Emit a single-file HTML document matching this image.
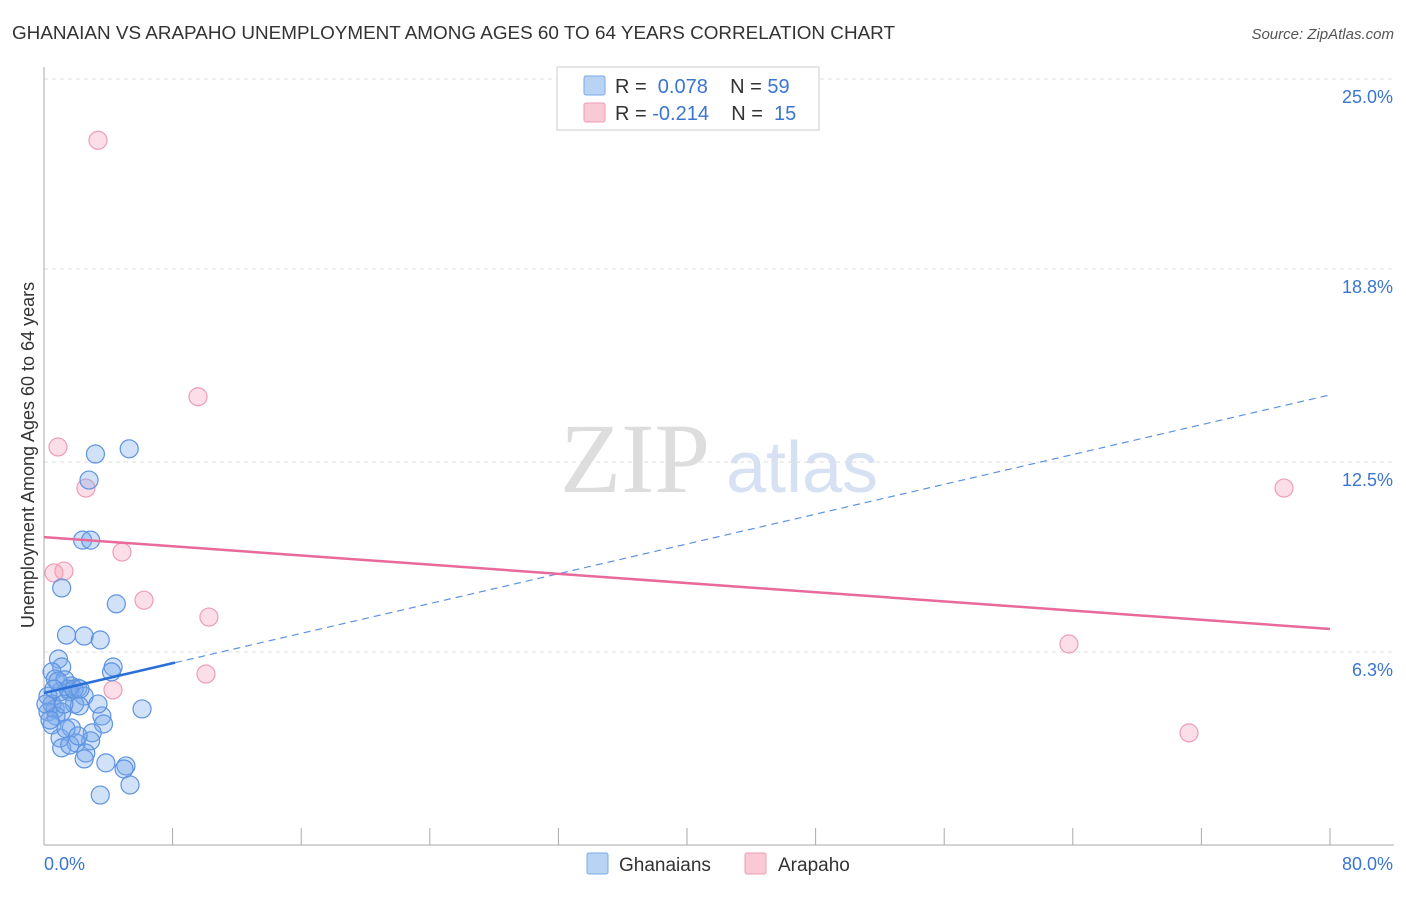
<!DOCTYPE html>
<html><head><meta charset="utf-8"><style>
body{margin:0;background:#fff;font-family:"Liberation Sans",sans-serif}
svg text{font-family:"Liberation Sans",sans-serif}
</style></head><body>
<svg width="1406" height="892" xmlns="http://www.w3.org/2000/svg">
<text x="12" y="39" font-size="18" fill="#333" textLength="883" lengthAdjust="spacingAndGlyphs">GHANAIAN VS ARAPAHO UNEMPLOYMENT AMONG AGES 60 TO 64 YEARS CORRELATION CHART</text>
<text x="1394" y="39" font-size="15" fill="#555" font-style="italic" text-anchor="end">Source: ZipAtlas.com</text>
<text x="635" y="492" font-size="100" fill="#ddd" style="font-family:'Liberation Serif',serif" text-anchor="middle">ZIP</text>
<text x="802" y="492" font-size="72" fill="#d6e2f3" text-anchor="middle">atlas</text>
<g id="grid"></g><g id="axes"></g><g id="marks"></g>
<text x="34" y="455" font-size="18" fill="#333" text-anchor="middle" transform="rotate(-90 34 455)">Unemployment Among Ages 60 to 64 years</text>
<g>
<rect x="557" y="67" width="262" height="63" fill="#fff" stroke="#ccc"/>
<rect x="584" y="76" width="21" height="19" fill="#b9d3f5" stroke="#7aa8e8" rx="2"/>
<rect x="584" y="103" width="21" height="19" fill="#f9c9d6" stroke="#ee9db4" rx="2"/>
<text x="615" y="93" font-size="20" fill="#333">R = <tspan fill="#3a75d0">&#160;0.078</tspan>&#160;&#160;&#160;&#160;N = <tspan fill="#3a75d0">59</tspan></text>
<text x="615" y="120" font-size="20" fill="#333">R = <tspan fill="#3a75d0">-0.214</tspan>&#160;&#160;&#160;&#160;N = <tspan fill="#3a75d0">&#160;15</tspan></text>
</g>
<g>
<rect x="587" y="853" width="21" height="21" fill="#b9d3f5" stroke="#7aa8e8" rx="2"/>
<text x="619" y="871" font-size="19" fill="#333">Ghanaians</text>
<rect x="745" y="853" width="21" height="21" fill="#f9c9d6" stroke="#ee9db4" rx="2"/>
<text x="778" y="871" font-size="19" fill="#333">Arapaho</text>
</g>
</svg>
<script>
const yTicks=[25.0,18.8,12.5,6.3];
const yTickLabels=["25.0%","18.8%","12.5%","6.3%"];
const xTickLabels=["0.0%","80.0%"];
const blueX=[5.3,3.2,2.8,2.4,2.9,1.1,4.5,1.4,2.5,3.5,0.9,1.1,4.3,4.2,0.5,0.7,1.3,1.7,2.1,1.6,2.5,1.0,0.25,0.5,0.7,1.9,2.2,1.1,0.25,0.75,6.1,3.6,3.7,0.5,1.7,3.0,1.0,2.9,2.0,1.1,1.6,2.6,2.5,3.85,5.1,4.98,3.5,5.35,0.12,0.37,1.5,1.87,0.87,2.24,1.24,0.62,3.36,1.37,2.12];
const blueY=[12.93,12.76,11.91,9.95,9.95,8.39,7.87,6.85,6.82,6.69,6.07,5.81,5.81,5.65,5.65,5.42,5.39,5.19,5.12,5.0,4.86,5.0,4.86,4.6,4.44,4.6,4.54,4.34,4.34,4.21,4.44,4.21,3.95,3.92,3.82,3.66,3.49,3.4,3.33,3.17,3.26,3.0,2.81,2.68,2.58,2.48,1.63,1.96,4.6,4.08,5.09,5.09,5.35,5.09,4.6,5.09,4.6,3.79,3.56];
const pX=[3.36,9.58,0.87,2.61,4.85,0.62,1.24,6.22,10.26,10.08,4.29,0.5,63.76,77.14,71.23];
const pY=[23.0,14.63,12.99,11.65,9.56,8.88,8.94,7.99,7.44,5.58,5.06,4.6,6.56,11.65,3.66];
const blueFit=[4.96,14.69];
const pinkFit=[10.05,7.05];
const NS="http://www.w3.org/2000/svg";
const sx=v=>44+v*16.075, sy=v=>845-v*30.64;
function mk(t,a,p){const e=document.createElementNS(NS,t);for(const k in a)e.setAttribute(k,a[k]);document.getElementById(p).appendChild(e);return e;}
yTicks.forEach((t,i)=>{
 const l=mk('line',{x1:44,x2:1394,y1:sy(t),y2:sy(t),stroke:'#ddd','stroke-dasharray':'4,4'},'grid');
 
 
 const tx=mk('text',{x:1393,y:sy(t)+24,'font-size':18,fill:'#3a75d0','text-anchor':'end'},'axes');
 tx.textContent=yTickLabels[i];
 
 
});
let ax=mk('line',{x1:44,x2:44,y1:67,y2:845,stroke:'#aaa'},'axes');


ax=mk('line',{x1:44,x2:1394,y1:845,y2:845,stroke:'#aaa'},'axes');


for(let i=0;i<=10;i++){const t=mk('line',{x1:sx(i*8),x2:sx(i*8),y1:828,y2:845,stroke:'#aaa'},'axes');
 
 }
xTickLabels.forEach((s,i)=>{const t=mk('text',{x:i?1393:44,y:870,'font-size':18,fill:'#3a75d0','text-anchor':i?'end':'start'},'axes');t.textContent=s;
 
 });
pX.forEach((x,i)=>{const c=mk('circle',{cx:sx(x),cy:sy(pY[i]),r:9,fill:'rgba(244,160,185,0.35)',stroke:'#ee9db4','stroke-width':1.2},'marks');
 
 });
blueX.forEach((x,i)=>{const c=mk('circle',{cx:sx(x),cy:sy(blueY[i]),r:9,fill:'rgba(120,170,235,0.35)',stroke:'#5d93e0','stroke-width':1.2},'marks');
 
 });
const bf=x=>blueFit[0]+(blueFit[1]-blueFit[0])*x/80;
let l=mk('line',{x1:sx(0),y1:sy(bf(0)),x2:sx(8.15),y2:sy(bf(8.15)),stroke:'#2a6fd6','stroke-width':2.5},'marks');


l=mk('line',{x1:sx(8.15),y1:sy(bf(8.15)),x2:sx(79.9),y2:sy(bf(79.9)),stroke:'#5d93e0','stroke-width':1.2,'stroke-dasharray':'7,5'},'marks');


l=mk('line',{x1:sx(0),y1:sy(pinkFit[0]),x2:sx(80),y2:sy(pinkFit[1]),stroke:'#e8699a','stroke-width':2.5},'marks');


</script>
</body></html>
